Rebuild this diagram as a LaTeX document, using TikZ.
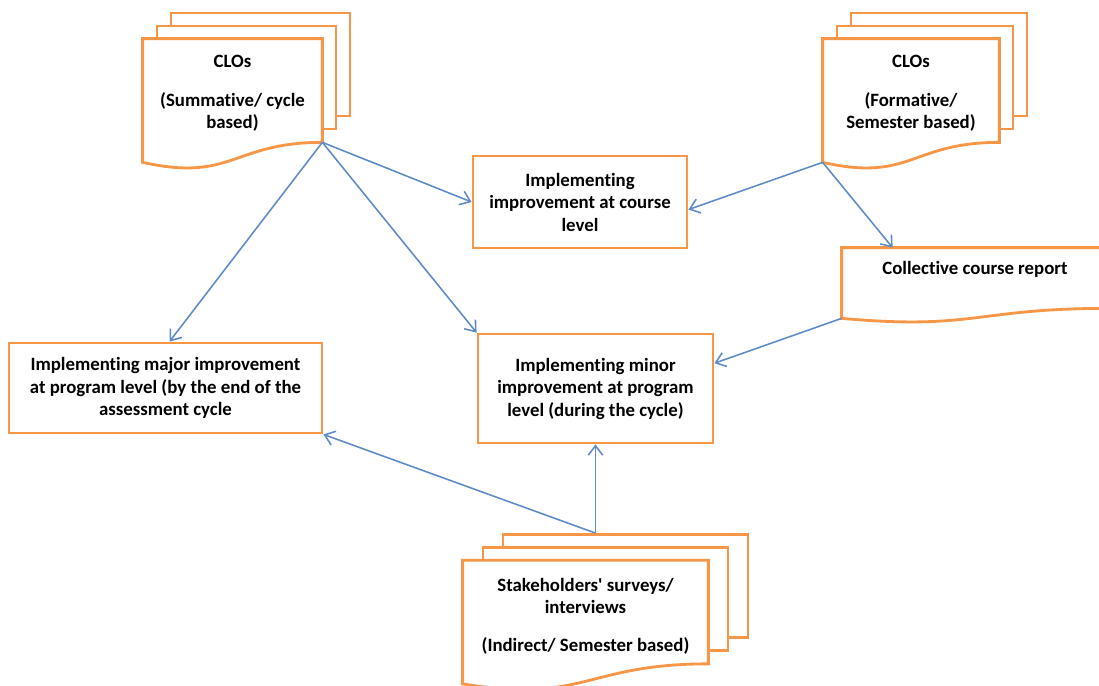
\documentclass[tikz,border=0pt]{standalone}
\usepackage{fontspec}
\setmainfont{Carlito}[Ligatures=NoCommon]
\usetikzlibrary{positioning,arrows.meta,calc}
\definecolor{orangeline}{RGB}{247,150,70}
\definecolor{linkblue}{RGB}{95,140,200}
\newcommand{\boxfont}{\fontsize{10.7pt}{12.8pt}\selectfont\bfseries}
% two sheets behind a front sheet: name, x, y, width, step
\newcommand{\pagestack}[5]{%
  \node[sheet, minimum width=#4] (#1c) at (#2+2*#5, #3-26) {};
  \node[sheet, minimum width=#4] (#1b) at (#2+#5, #3-13) {};
  \node[front, minimum width=#4] (#1) at (#2,#3) {};
}
% front sheet with wavy bottom: name, drop, dip
\newcommand{\wavyedge}[3]{%
  \draw[sheetline] (#1.south east) -- (#1.north east) -- (#1.north west) -- (#1.south west)
    -- ++(0,#2) coordinate (#1-end) .. controls ($(#1.south)+(0,#3)$) and (#1.south) .. (#1.south east) -- cycle;
}

\begin{document}
\begin{tikzpicture}[
  x=0.2mm, y=-0.2mm,
  box/.style={draw=orangeline, line width=1.6pt, fill=white, align=center, font=\boxfont},
  sheetline/.style={draw=orangeline, line width=1.6pt, fill=white},
  sheet/.style={sheetline, minimum height=20.6mm, inner sep=0pt},
  front/.style={minimum height=20.6mm, inner sep=0pt},
  doctext/.style={align=center, font=\boxfont, inner sep=0pt},
  link/.style={-{Straight Barb[length=1.9mm,width=2.9mm]}, draw=linkblue, line width=0.9pt},
]
  \useasboundingbox (0,0) rectangle (1099,686);

  % document stacks
  \pagestack{cloL}{232.5}{90.5}{35.8mm}{14}
  \wavyedge{cloL}{20}{40}
  \node[doctext] (cloLtext) at ($(cloL)+(0,3)$) {CLOs\\[3.3mm](Summative/ cycle\\based)};

  \pagestack{cloR}{911}{90.5}{35.2mm}{14}
  \wavyedge{cloR}{20}{40}
  \node[doctext] (cloRtext) at ($(cloR)+(0,3)$) {CLOs\\[3.3mm](Formative/\\Semester based)};

  \pagestack{stake}{585.5}{612}{49mm}{20}
  \wavyedge{stake}{20}{40}
  \node[doctext] (staketext) at ($(stake)+(0,4)$) {Stakeholders\textquotesingle\ surveys/\\interviews\\[3mm](Indirect/ Semester based)};

  \node[front, minimum width=53.2mm, minimum height=12mm] (report) at (975,278) {};
  \wavyedge{report}{10}{22}
  \node[doctext] (reporttext) at ($(report)+(0,-9)$) {Collective course report};

  % improvement boxes
  \node[box, minimum width=42.8mm, minimum height=18.4mm] (course) at (580,202) {Implementing\\improvement at course\\level};
  \node[box, minimum width=62.6mm, minimum height=18mm] (major) at (165.5,388) {Implementing major improvement\\at program level (by the end of the\\assessment cycle};
  \node[box, minimum width=47mm, minimum height=21.8mm] (minor) at (595.5,388.5) {Implementing minor\\improvement at program\\level (during the cycle)};

  \coordinate (stakeTop) at (minor.south |- stakec.north);

  \draw[link] (cloL.south east) -- (course.west);
  \draw[link] (cloL.south east) -- ($(major.north)+(4,0)$);
  \draw[link] (cloL.south east) -- (minor.north west);
  \draw[link] (cloR-end) -- (course.-4);
  \draw[link] (cloR-end) -- ($(report.north west)+(51,0)$);
  \draw[link] (report-end) -- (minor.12);
  \draw[link] (stakeTop) -- (minor.south);
  \draw[link] (stakeTop) -- (major.south east);
\end{tikzpicture}
\end{document}
